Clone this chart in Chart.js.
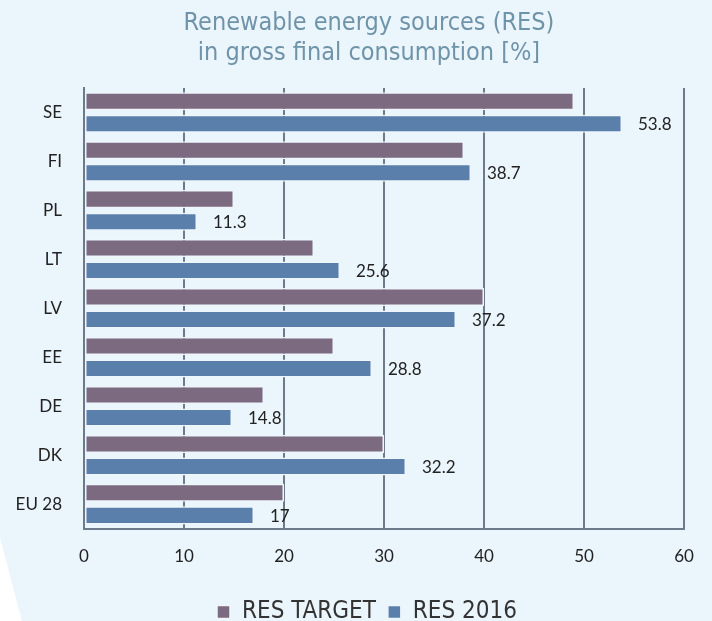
<!DOCTYPE html>
<html>
<head>
<meta charset="utf-8">
<script src="https://cdn.jsdelivr.net/npm/chart.js@4"></script>
<style>
  html, body { margin: 0; padding: 0; background: #ebf5fc; }
  #wrap { width: 712px; height: 621px; }
</style>
</head>
<body>
<div id="wrap"><canvas id="resChart"></canvas></div>
<script>
// data
const countries = ['SE', 'FI', 'PL', 'LT', 'LV', 'EE', 'DE', 'DK', 'EU 28'];
const resTarget = [49, 38, 15, 23, 40, 25, 18, 30, 20];
const res2016 = [53.8, 38.7, 11.3, 25.6, 37.2, 28.8, 14.8, 32.2, 17];
const xTicks = [0, 10, 20, 30, 40, 50, 60];

const gridCol = '#6c7a8c';
const txtCol = '#222';
const font = 'Lato, "Open Sans", sans-serif';
const narrow = '"DejaVu Sans Condensed", "Open Sans", sans-serif';

// background + white wedge bottom left
const bgPlugin = {
	id: 'bg',
	beforeDraw(chart) {
		const c = chart.ctx;
		c.save();
		c.fillStyle = '#ebf5fc';
		c.fillRect(0, 0, chart.width, chart.height);
		c.fillStyle = '#ffffff';
		c.beginPath();
		c.moveTo(0, 538);
		c.lineTo(22, chart.height);
		c.lineTo(0, chart.height);
		c.closePath();
		c.fill();
		c.restore();
	},
	// title and legend sit a bit right of centre in the original
	afterLayout(chart) {
		if (chart.titleBlock) chart.titleBlock.left += 54;
		if (chart.legend) {
			chart.legend.left += 50;
			chart.legend.top += 3;
			chart.legend.bottom += 3;
		}
	}
};

// value labels next to the RES 2016 bars
const valuePlugin = {
	id: 'vals',
	afterDatasetsDraw(chart) {
		const c = chart.ctx;
		const meta = chart.getDatasetMeta(1);
		c.save();
		c.font = '17px ' + font;
		c.fillStyle = txtCol;
		c.textBaseline = 'middle';
		meta.data.forEach((bar, i) => {
			c.fillText(String(res2016[i]), bar.x + 16, bar.y + 1);
		});
		c.restore();
	}
};

const ctx = document.getElementById('resChart').getContext('2d');
const resChart = new Chart(ctx, {
	type: 'bar',
	data: {
		labels: countries,
		datasets: [
			{
				label: 'RES TARGET',
				data: resTarget,
				backgroundColor: '#7b6a80',
				borderColor: '#eef6fc',
				borderWidth: 1.5,
				borderSkipped: false,
			},
			{
				label: 'RES 2016',
				data: res2016,
				backgroundColor: '#5a7fab',
				borderColor: '#eef6fc',
				borderWidth: 1.5,
				borderSkipped: false,
			},
		],
	},
	options: {
		indexAxis: 'y',
		responsive: true,
		maintainAspectRatio: false,
		animation: false,
		datasets: {
			bar: { categoryPercentage: 0.92, barPercentage: 0.8 }
		},
		layout: { padding: { left: 0, right: 28, top: 0, bottom: -10 } },
		plugins: {
			title: {
				display: true,
				text: ['Renewable energy sources (RES)', 'in gross final consumption [%]'],
				color: '#6f94a9',
				font: { family: narrow, size: 25, weight: 'normal', lineHeight: 1.2 },
				padding: { top: 8, bottom: 20 },
			},
			legend: {
				position: 'bottom',
				labels: {
					color: '#333',
					font: { family: narrow, size: 24 },
					boxWidth: 13,
					boxHeight: 13,
					padding: 12,
				},
			},
			tooltip: { enabled: false },
		},
		scales: {
			x: {
				min: 0,
				max: 60,
				afterBuildTicks(axis) {
					axis.ticks = xTicks.map(v => ({ value: v }));
				},
				grid: { color: gridCol, lineWidth: 2, drawTicks: false },
				border: { color: gridCol, width: 2 },
				ticks: { color: txtCol, font: { family: font, size: 17 }, padding: 18 },
			},
			y: {
				grid: { display: false, drawTicks: false },
				border: { color: gridCol, width: 2 },
				ticks: { color: txtCol, font: { family: font, size: 17 }, padding: 22 },
				afterFit(axis) { axis.width = 84; },
			},
		},
	},
	plugins: [bgPlugin, valuePlugin],
});
</script>
</body>
</html>
